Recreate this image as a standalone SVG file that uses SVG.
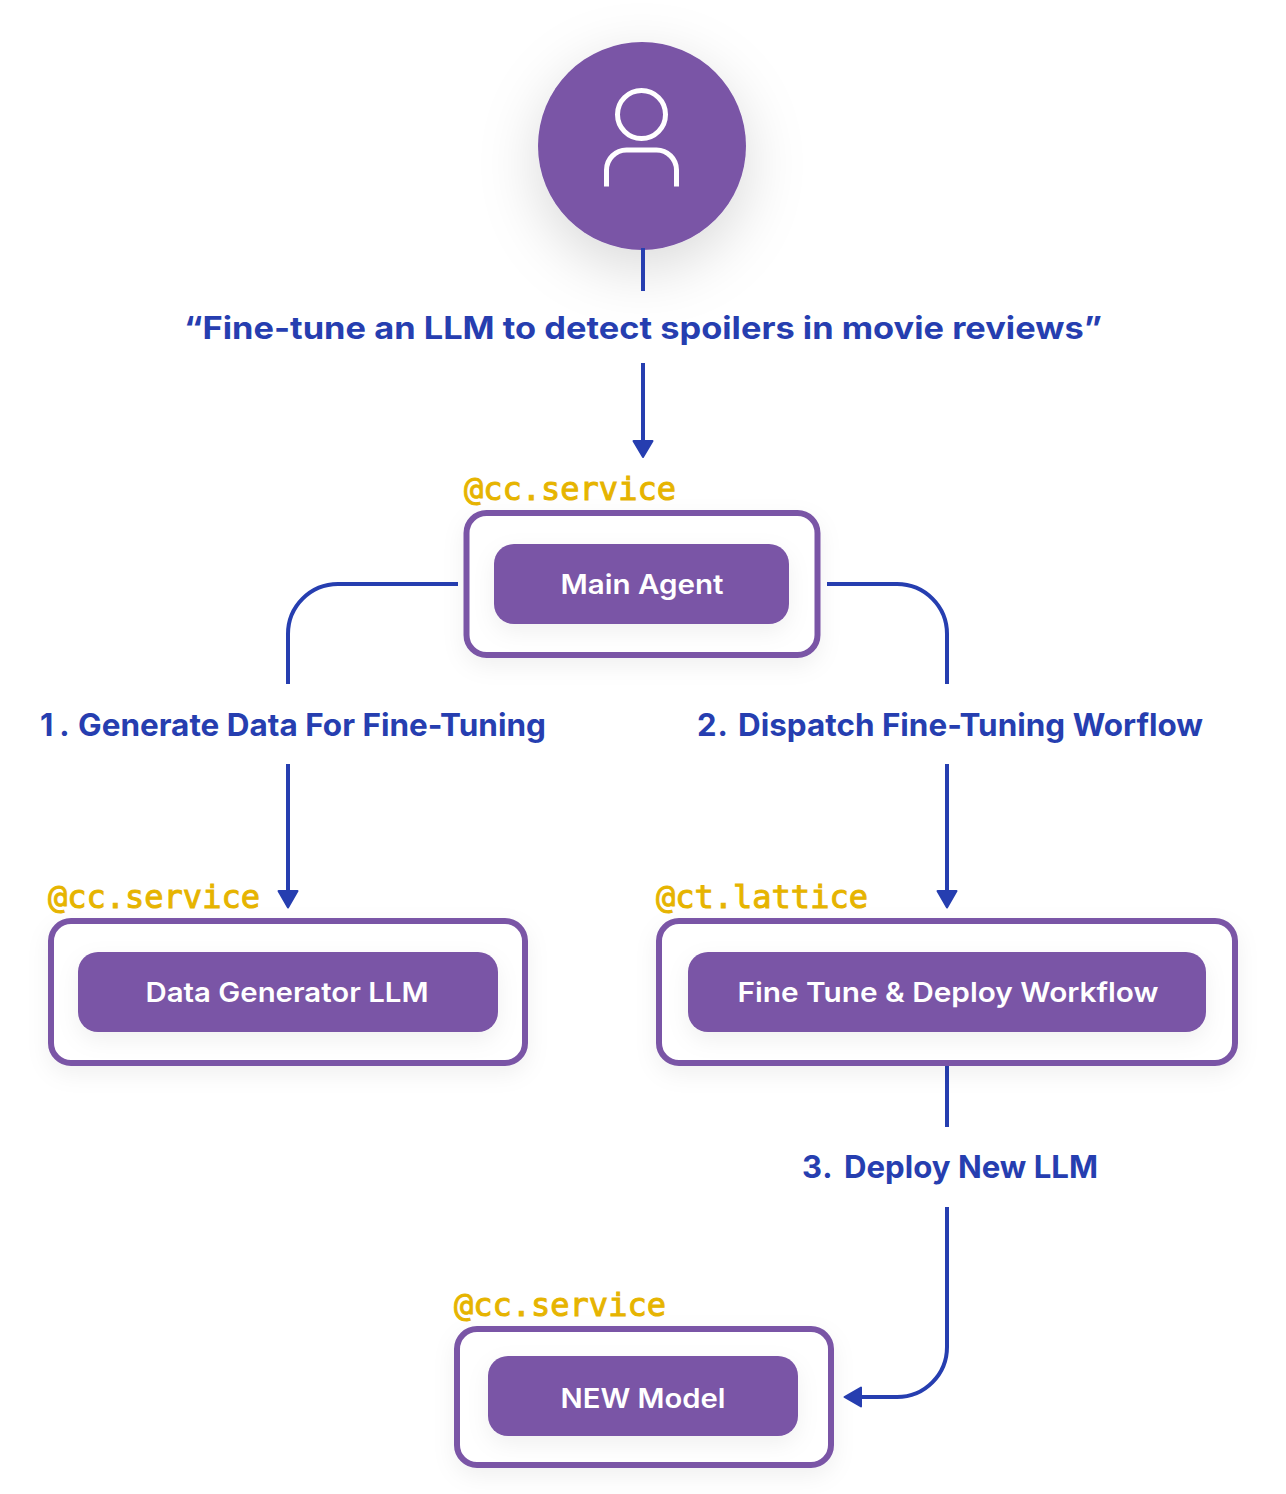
<svg xmlns="http://www.w3.org/2000/svg" width="1286" height="1494" viewBox="0 0 1286 1494">
<style>
.frame{fill:#fff;stroke:#7a54a6;stroke-width:6;filter:url(#soft)}
.pill{fill:#7a54a6;filter:url(#soft)}
.name{font-family:"Inter","Liberation Sans",sans-serif;font-weight:600;font-size:27px;fill:#fff;text-anchor:middle}
.tag{font-family:"DejaVu Sans Mono","Liberation Mono",monospace;font-size:32px;font-weight:400;fill:#e6b400;stroke:#e6b400;stroke-width:1px}
.step{font-family:"Inter","Liberation Sans",sans-serif;font-weight:700;font-size:31px;fill:#263eb0}
.line{fill:none;stroke:#263eb0;stroke-width:4}
.head{fill:#263eb0;stroke:#263eb0;stroke-width:2;stroke-linejoin:round}
</style>
<defs>
<filter id="soft" x="-20%" y="-30%" width="140%" height="170%"><feDropShadow dx="0" dy="8" stdDeviation="11" flood-color="#000" flood-opacity=".06"/></filter>
<filter id="big" x="-50%" y="-50%" width="200%" height="210%"><feDropShadow dx="0" dy="18" stdDeviation="30" flood-color="#000" flood-opacity=".15"/></filter>
</defs>
<rect width="1286" height="1494" fill="#fff"/>
<g id="user">
<circle cx="642" cy="146" r="104" fill="#7a54a6" filter="url(#big)"/>
<circle cx="641.500" cy="114.500" r="24" fill="none" stroke="#fff" stroke-width="5"/>
<path d="M606.500 186.500V170a20 20 0 0 1 20-20h30a20 20 0 0 1 20 20v16.500" fill="none" stroke="#fff" stroke-width="5"/>
</g>
<g id="connectors">
<path class="line" d="M643 248V291"/>
<path class="line" d="M643 363V442"/>
<path class="head" d="M633.500 441H652.500L643 457Z"/>
<path class="line" d="M458 584H338a50 50 0 0 0-50 50V684"/>
<path class="line" d="M288 764V892"/>
<path class="head" d="M278.500 891H297.500L288 907.500Z"/>
<path class="line" d="M827 584H897a50 50 0 0 1 50 50V684"/>
<path class="line" d="M947 764V892"/>
<path class="head" d="M937.500 891H956.500L947 907.500Z"/>
<path class="line" d="M947 1064V1127"/>
<path class="line" d="M947 1207V1347a50 50 0 0 1-50 50H860"/>
<path class="head" d="M861 1387.500V1406.500L844.500 1397Z"/>
</g>
<text class="step" x="643" y="339" text-anchor="middle" textLength="918" lengthAdjust="spacingAndGlyphs">“Fine-tune an LLM to detect spoilers in movie reviews”</text>
<g id="main-agent">
<text class="tag" x="464" y="500">@cc.service</text>
<rect class="frame" x="466.500" y="513" width="351" height="142" rx="20"/>
<rect class="pill" x="494" y="544" width="295" height="80" rx="20"/>
<text class="name" x="642" y="594" textLength="163" lengthAdjust="spacingAndGlyphs">Main Agent</text>
</g>
<text class="step" y="736"><tspan x="40" letter-spacing="6">1.</tspan><tspan x="78" textLength="468" lengthAdjust="spacingAndGlyphs">Generate Data For Fine-Tuning</tspan></text>
<text class="step" y="736"><tspan x="697" letter-spacing="1">2.</tspan><tspan x="738" textLength="465" lengthAdjust="spacingAndGlyphs">Dispatch Fine-Tuning Worflow</tspan></text>
<g id="data-generator">
<text class="tag" x="48" y="908">@cc.service</text>
<rect class="frame" x="51" y="921" width="474" height="142" rx="20"/>
<rect class="pill" x="78" y="952" width="420" height="80" rx="20"/>
<text class="name" x="287" y="1002" textLength="283" lengthAdjust="spacingAndGlyphs">Data Generator LLM</text>
</g>
<g id="workflow">
<text class="tag" x="656" y="908">@ct.lattice</text>
<rect class="frame" x="659" y="921" width="576" height="142" rx="20"/>
<rect class="pill" x="688" y="952" width="518" height="80" rx="20"/>
<text class="name" x="948" y="1002" textLength="421" lengthAdjust="spacingAndGlyphs">Fine Tune &amp; Deploy Workflow</text>
</g>
<text class="step" y="1178"><tspan x="802" letter-spacing="1">3.</tspan><tspan x="844" textLength="254" lengthAdjust="spacingAndGlyphs">Deploy New LLM</tspan></text>
<g id="new-model">
<text class="tag" x="454" y="1316">@cc.service</text>
<rect class="frame" x="457" y="1329" width="374" height="136" rx="20"/>
<rect class="pill" x="488" y="1356" width="310" height="80" rx="20"/>
<text class="name" x="643" y="1408" textLength="165" lengthAdjust="spacingAndGlyphs">NEW Model</text>
</g>
</svg>
